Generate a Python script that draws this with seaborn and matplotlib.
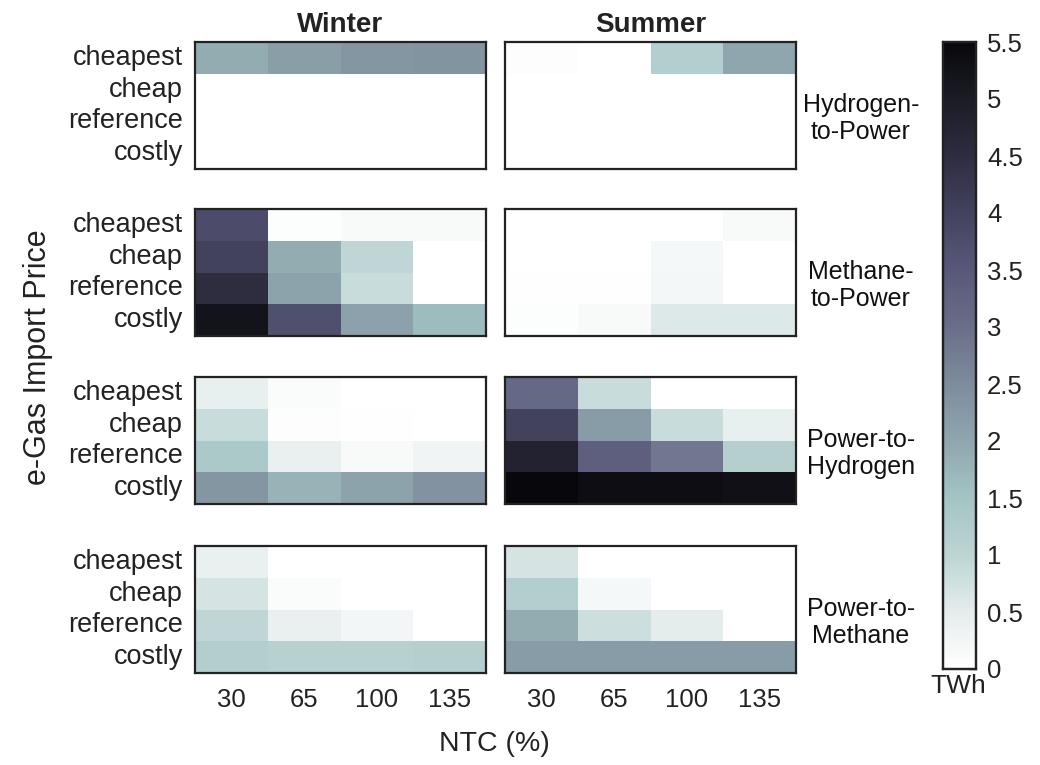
import numpy as np
import pandas as pd
import matplotlib
matplotlib.use("Agg")
import matplotlib.pyplot as plt
import seaborn as sns
from matplotlib.colors import LinearSegmentedColormap

sns.set_theme(style="white")
plt.rcParams['font.family'] = ['Liberation Sans', 'DejaVu Sans']

prices = ["cheapest", "cheap", "reference", "costly"]
ntc = ["30", "65", "100", "135"]
seasons = ["Winter", "Summer"]
technologies = ["Hydrogen-\nto-Power", "Methane-\nto-Power", "Power-to-\nHydrogen", "Power-to-\nMethane"]

h2p_winter = [[1.9, 2.15, 2.3, 2.35], [0, 0, 0, 0], [0, 0, 0, 0], [0, 0, 0, 0]]
h2p_summer = [[0.05, 0, 1.2, 2.0], [0, 0, 0, 0], [0, 0, 0, 0], [0, 0, 0, 0]]
m2p_winter = [[3.8, 0.08, 0.15, 0.15], [4.0, 1.9, 0.95, 0], [4.5, 2.05, 0.85, 0], [5.2, 3.7, 2.1, 1.65]]
m2p_summer = [[0, 0, 0, 0.15], [0, 0, 0.2, 0], [0.03, 0.03, 0.22, 0], [0.08, 0.15, 0.6, 0.6]]
p2h_winter = [[0.45, 0.1, 0, 0], [0.85, 0.05, 0.03, 0.02], [1.35, 0.4, 0.15, 0.3], [2.3, 1.8, 2.05, 2.4]]
p2h_summer = [[3.1, 0.85, 0, 0], [4.0, 2.2, 0.85, 0.45], [4.8, 3.35, 2.85, 1.15], [5.5, 5.35, 5.35, 5.3]]
p2m_winter = [[0.4, 0, 0, 0], [0.7, 0.1, 0, 0], [0.95, 0.4, 0.25, 0], [1.2, 1.1, 1.1, 1.15]]
p2m_summer = [[0.7, 0, 0, 0], [1.2, 0.2, 0, 0], [1.9, 0.8, 0.5, 0], [2.2, 2.2, 2.2, 2.2]]

panels = [[h2p_winter, h2p_summer], [m2p_winter, m2p_summer],
          [p2h_winter, p2h_summer], [p2m_winter, p2m_summer]]

cmap = LinearSegmentedColormap.from_list("egas", [
    (0.0, "#ffffff"), (0.5 / 5.5, "#e4ecec"), (1.0 / 5.5, "#bcd4d4"),
    (1.5 / 5.5, "#a3c4c4"), (2.0 / 5.5, "#8fa6ae"), (2.5 / 5.5, "#7e8c9c"),
    (3.0 / 5.5, "#6a6e88"), (3.5 / 5.5, "#58587a"), (4.0 / 5.5, "#43425e"),
    (4.5 / 5.5, "#2e2d40"), (5.0 / 5.5, "#1c1c26"), (1.0, "#08080c")])

W, H = 1040, 765
fig = plt.figure(figsize=(W / 100, H / 100), dpi=100)
TXT = "#222222"

lefts = [195, 505]
tops = [42, 209, 377, 546]
pw, ph = 291, 127
cax = fig.add_axes([943 / W, 1 - 669 / H, 33 / W, 627 / H])

for r, top in enumerate(tops):
    for c, left in enumerate(lefts):
        ax = fig.add_axes([left / W, 1 - (top + ph) / H, pw / W, ph / H])
        df = pd.DataFrame(panels[r][c], index=prices, columns=ntc)
        first = (r == 0 and c == 0)
        sns.heatmap(df, ax=ax, cmap=cmap, vmin=0, vmax=5.5,
                    cbar=first, cbar_ax=cax if first else None)
        for s in ax.spines.values():
            s.set_visible(True)
            s.set_color(TXT)
            s.set_linewidth(1.6)
        ax.tick_params(length=0, colors=TXT)
        if c == 0:
            ax.set_yticklabels(prices, rotation=0, fontsize=19.5)
            ax.tick_params(axis="y", pad=8.5)
        else:
            ax.set_yticks([])
        if r == 3:
            ax.set_xticklabels(ntc, rotation=0, fontsize=18.5)
            ax.tick_params(axis="x", pad=11)
        else:
            ax.set_xticks([])
        ax.set_xlabel("")
        ax.set_ylabel("")
        if r == 0:
            ax.set_title(seasons[c], fontsize=20, fontweight="bold", pad=7, color=TXT)
        if c == 1:
            ax.text((861 - left) / pw, 1 - (ph / 2 + 13) / ph, technologies[r],
                    transform=ax.transAxes, ha="center", va="center",
                    fontsize=18, color="#111111", linespacing=1.15)

cax.set_yticks([0, 0.5, 1, 1.5, 2, 2.5, 3, 3.5, 4, 4.5, 5, 5.5])
cax.set_yticklabels(["0", "0.5", "1", "1.5", "2", "2.5", "3", "3.5", "4", "4.5", "5", "5.5"])
cax.tick_params(labelsize=18.5, direction="in", length=5, width=1, colors=TXT,
                right=True, pad=8)
for s in cax.spines.values():
    s.set_visible(True)
    s.set_color(TXT)
    s.set_linewidth(1.6)
fig.text(958 / W, 1 - 674 / H, "TWh", ha="center", va="top",
         fontsize=19, color=TXT)

fig.text(38 / W, 1 - 357 / H, "e-Gas Import Price", rotation=90, ha="center",
         va="center", fontsize=22, color=TXT)
fig.text(494 / W, 1 - 744 / H, "NTC (%)", ha="center", va="center",
         fontsize=20.5, color=TXT)

fig.savefig("out.png", dpi=100)
